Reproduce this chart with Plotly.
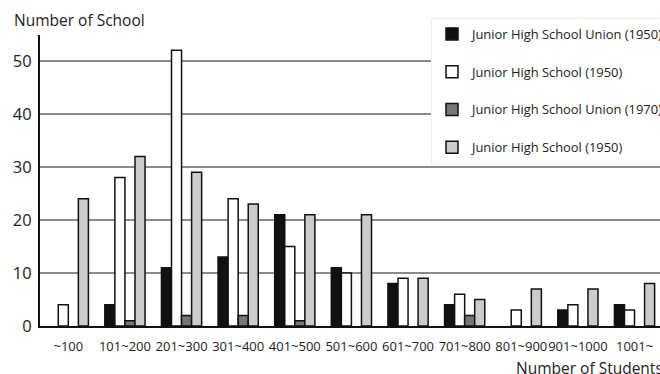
import plotly.graph_objects as go

categories = ["~100", "101~200", "201~300", "301~400", "401~500", "501~600",
              "601~700", "701~800", "801~900", "901~1000", "1001~"]
union_1950 = [0, 4, 11, 13, 21, 11, 8, 4, 0, 3, 4]
jhs_1950 = [4, 28, 52, 24, 15, 10, 9, 6, 3, 4, 3]
union_1970 = [0, 1, 2, 2, 1, 0, 0, 2, 0, 0, 0]
jhs_1950b = [24, 32, 29, 23, 21, 21, 9, 5, 7, 7, 8]

series = [
    ("Junior High School Union (1950)", union_1950, "#111111"),
    ("Junior High School (1950)", jhs_1950, "#ffffff"),
    ("Junior High School Union (1970)", union_1970, "#777777"),
    ("Junior High School (1950)", jhs_1950b, "#cccccc"),
]

W, H = 660, 374
L, R, T, B = 40, 0, 35, 48
PW, PH = W - L - R, H - T - B
FONT = "Open Sans"

fig = go.Figure()
for i, (name, vals, col) in enumerate(series):
    fig.add_trace(go.Bar(
        x=categories, y=[v if v else None for v in vals],
        name=name, legendgroup=f"g{i}",
        marker=dict(color=col, line=dict(color="#111111", width=1.5)),
    ))

fig.update_layout(
    width=W, height=H,
    margin=dict(l=L, r=R, t=T, b=B, autoexpand=False),
    paper_bgcolor="white", plot_bgcolor="white",
    barmode="group", bargap=0.29, bargroupgap=0,
    font=dict(family=FONT, color="#222222", size=13),
    showlegend=True,
    legend=dict(
        xref="paper", yref="paper",
        x=(431 - L) / PW, y=1 + (T - 18) / PH, xanchor="left", yanchor="top",
        bgcolor="white", bordercolor="#eeeeee", borderwidth=1,
        font=dict(family=FONT, size=12.9, color="#222222"),
        tracegroupgap=18, traceorder="grouped",
    ),
    xaxis=dict(
        type="category", range=[-0.5, 10.45],
        showline=True, linecolor="#111111", linewidth=2,
        ticks="", showgrid=False, tickangle=0, ticklabelstandoff=7,
        tickfont=dict(family=FONT, size=13, color="#222222"),
    ),
    yaxis=dict(
        range=[0, 54.9], tickvals=[0, 10, 20, 30, 40, 50],
        showline=True, linecolor="#111111", linewidth=2,
        showgrid=True, gridcolor="#8a8a8a", gridwidth=2,
        zeroline=False, ticks="", ticklabelstandoff=3,
        tickfont=dict(family=FONT, size=16.5, color="#222222"),
    ),
    annotations=[
        dict(text="Number of School", xref="paper", yref="paper",
             x=(12 - L) / PW, y=1 + (T - 20) / PH, xanchor="left", yanchor="middle",
             showarrow=False, font=dict(family=FONT, size=15.5, color="#222222")),
        dict(text="Number of Students", xref="paper", yref="paper",
             x=(514 - L) / PW, y=-(368 - T - PH) / PH, xanchor="left", yanchor="middle",
             showarrow=False, font=dict(family=FONT, size=15.5, color="#222222")),
    ],
)

fig.write_html("out.html", config={"displayModeBar": False},
               post_script="document.body.style.margin='0';")
